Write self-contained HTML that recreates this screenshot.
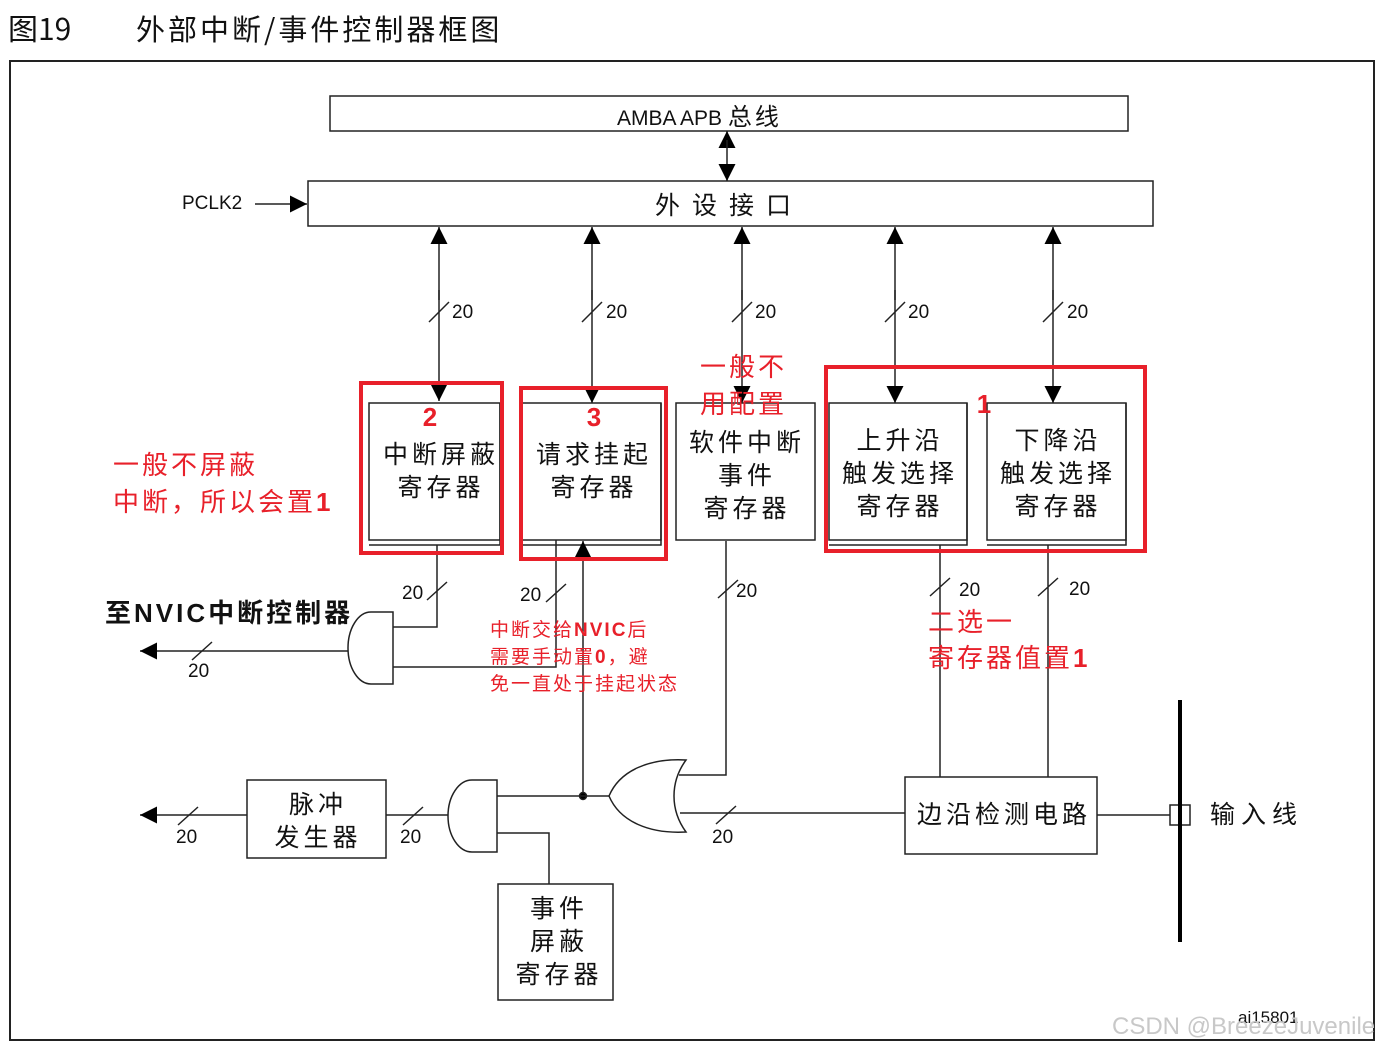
<!DOCTYPE html>
<html><head><meta charset="utf-8"><style>
html,body{margin:0;padding:0;background:#fff;width:1391px;height:1049px;overflow:hidden}
svg{display:block}
text{font-family:"Liberation Sans","Noto Sans CJK SC",sans-serif;fill:#111}
.cn{font-family:"Noto Sans CJK SC","WenQuanYi Zen Hei",sans-serif;font-size:25px;letter-spacing:4px}
.r{fill:#e8202a}
.rb{font-weight:bold;fill:#e8202a}
</style></head><body>
<svg width="1391" height="1049" viewBox="0 0 1391 1049" xmlns="http://www.w3.org/2000/svg">
<defs>
<marker id="a" viewBox="0 0 10 10" refX="10" refY="5" markerWidth="17" markerHeight="17" markerUnits="userSpaceOnUse" orient="auto"><path d="M0,0L10,5L0,10z" fill="#000"/></marker>
</defs>
<g stroke="#222" stroke-width="1.5" fill="none">
<rect x="10" y="61" width="1364" height="979" stroke-width="2"/>
<rect x="330" y="96" width="798" height="35"/>
<rect x="308" y="181" width="845" height="45"/>
<line x1="727" y1="148" x2="727" y2="131" marker-end="url(#a)"/>
<line x1="727" y1="140" x2="727" y2="181" marker-end="url(#a)"/>
<line x1="255" y1="204" x2="307" y2="204" marker-end="url(#a)"/>
<line x1="439" y1="300" x2="439" y2="227" marker-end="url(#a)"/>
<line x1="439" y1="290" x2="439" y2="401" marker-end="url(#a)"/>
<line x1="592" y1="300" x2="592" y2="227" marker-end="url(#a)"/>
<line x1="592" y1="290" x2="592" y2="403" marker-end="url(#a)"/>
<line x1="742" y1="300" x2="742" y2="227" marker-end="url(#a)"/>
<line x1="742" y1="290" x2="742" y2="403" marker-end="url(#a)"/>
<line x1="895" y1="300" x2="895" y2="227" marker-end="url(#a)"/>
<line x1="895" y1="290" x2="895" y2="403" marker-end="url(#a)"/>
<line x1="1053" y1="300" x2="1053" y2="227" marker-end="url(#a)"/>
<line x1="1053" y1="290" x2="1053" y2="403" marker-end="url(#a)"/>
<path d="M429,322L449,302M582,322L602,302M732,322L752,302M885,322L905,302M1043,322L1063,302"/>
<rect x="369" y="403" width="131" height="137"/><path d="M500,403V545H369"/>
<rect x="522" y="403" width="139" height="137"/><path d="M661,403V545H522"/>
<rect x="676" y="403" width="139" height="137"/>
<rect x="829" y="403" width="138" height="137"/><path d="M967,403V545H829"/>
<rect x="987" y="403" width="139" height="137"/><path d="M1126,403V545H987"/>
<path d="M393,612H371A23,36 0 0 0 371,684H393Z"/>
<line x1="348" y1="651" x2="140" y2="651" marker-end="url(#a)"/>
<path d="M437,545V627H393M556,540V667H393"/>
<path d="M427,600L447,582M546,602L566,584M192,660L212,642"/>
<line x1="583" y1="796" x2="583" y2="541" marker-end="url(#a)"/>
<circle cx="583" cy="796" r="3.5" fill="#000"/>
<path d="M497,780H472A24,36 0 0 0 472,852H497Z"/>
<path d="M497,796H609M497,833H549V884"/>
<line x1="448" y1="815" x2="386" y2="815"/>
<path d="M403,825L423,807"/>
<rect x="247" y="780" width="139" height="78"/>
<line x1="247" y1="815" x2="140" y2="815" marker-end="url(#a)"/>
<path d="M178,825L198,807"/>
<rect x="498" y="884" width="115" height="116"/>
<path d="M686,760C650,758 620,770 609,796C620,822 650,834 686,832C670,810 670,782 686,760Z"/>
<path d="M679,775H726V541M680,813H905"/>
<path d="M716,824L736,806M718,598L738,580"/>
<rect x="905" y="777" width="192" height="77"/>
<path d="M940,777V545M1048,777V545M930,596L950,578M1038,596L1058,578"/>
<line x1="1097" y1="815" x2="1170" y2="815"/>
<rect x="1170" y="805" width="20" height="20"/>
<line x1="1180" y1="700" x2="1180" y2="942" stroke-width="4" stroke="#000"/>
</g>
<g stroke="#e8202a" stroke-width="4" fill="none">
<rect x="361" y="383" width="141" height="170"/>
<rect x="521" y="388" width="145" height="171"/>
<rect x="826" y="367" width="319" height="184"/>
</g>
<text x="8" y="40" class="cn" style="font-size:30px;letter-spacing:0">图19</text>
<text x="136" y="40" class="cn" style="font-size:29px;letter-spacing:3px">外部中断/事件控制器框图</text>
<text x="617" y="125" font-size="21">AMBA APB <tspan style="font-family:'Noto Sans CJK SC',sans-serif;font-size:24px;letter-spacing:3px">总线</tspan></text>
<text x="655" y="214" class="cn" style="letter-spacing:12px">外设接口</text>
<text x="182" y="209" font-size="19">PCLK2</text>
<g font-size="19">
<text x="452" y="318">20</text><text x="606" y="318">20</text><text x="755" y="318">20</text><text x="908" y="318">20</text><text x="1067" y="318">20</text>
<text x="402" y="599">20</text><text x="520" y="601">20</text><text x="188" y="677">20</text>
<text x="176" y="843">20</text><text x="400" y="843">20</text><text x="712" y="843">20</text>
<text x="736" y="597">20</text><text x="959" y="596">20</text><text x="1069" y="595">20</text>
</g>
<g class="cn" text-anchor="middle">
<text x="441" y="463">中断屏蔽</text><text x="441" y="496">寄存器</text>
<text x="594" y="463">请求挂起</text><text x="594" y="496">寄存器</text>
<text x="747" y="451">软件中断</text><text x="747" y="484">事件</text><text x="747" y="517">寄存器</text>
<text x="900" y="449">上升沿</text><text x="900" y="482">触发选择</text><text x="900" y="515">寄存器</text>
<text x="1058" y="449">下降沿</text><text x="1058" y="482">触发选择</text><text x="1058" y="515">寄存器</text>
<text x="318" y="813">脉冲</text><text x="318" y="846">发生器</text>
<text x="559" y="917">事件</text><text x="559" y="950">屏蔽</text><text x="559" y="983">寄存器</text>
<text x="1004" y="823">边沿检测电路</text>
</g>
<text x="1210" y="823" class="cn" style="letter-spacing:6px">输入线</text>
<text x="105" y="622" class="cn" style="font-size:26px;font-weight:bold;letter-spacing:3px">至<tspan font-family="Liberation Sans">NVIC</tspan>中断控制器</text>
<text x="430" y="426" font-size="26" class="rb" text-anchor="middle">2</text>
<text x="594" y="426" font-size="26" class="rb" text-anchor="middle">3</text>
<text x="984" y="413" font-size="26" class="rb" text-anchor="middle">1</text>
<g class="cn" style="font-size:26px;letter-spacing:3px">
<text x="700" y="376" class="r">一般不</text>
<text x="700" y="413" class="r">用配置</text>
<text x="113" y="474" class="r">一般不屏蔽</text>
<text x="113" y="511" class="r">中断，所以会置<tspan font-weight="bold">1</tspan></text>
<text x="928" y="631" class="r">二选一</text>
<text x="928" y="667" class="r">寄存器值置<tspan font-weight="bold">1</tspan></text>
</g>
<g class="cn" style="font-size:19px;letter-spacing:2px">
<text x="490" y="636" class="r">中断交给<tspan font-weight="bold">NVIC</tspan>后</text>
<text x="490" y="663" class="r">需要手动置<tspan font-weight="bold">0</tspan>，避</text>
<text x="490" y="690" class="r">免一直处于挂起状态</text>
</g>
<text x="1238" y="1023" font-size="17">ai15801</text>
<text x="1112" y="1034" font-size="24" style="fill:#c8c8c8">CSDN @BreezeJuvenile</text>
</svg>
</body></html>
